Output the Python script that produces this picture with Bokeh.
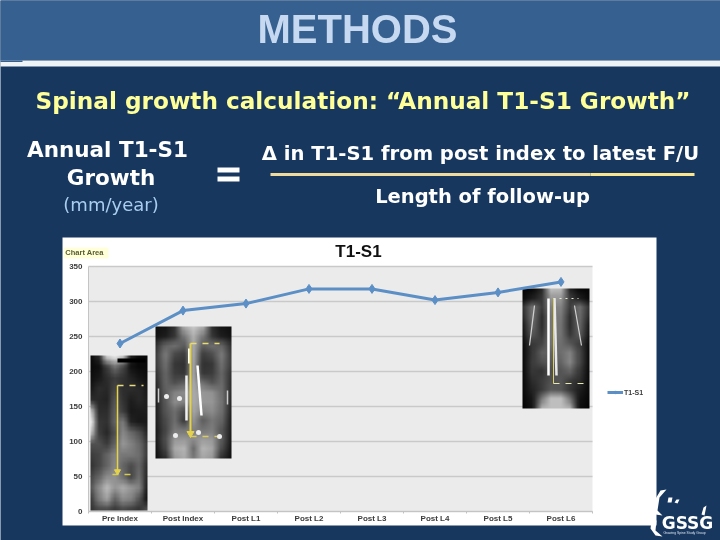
import numpy as np
from bokeh.embed import file_html
from bokeh.resources import INLINE
from bokeh.plotting import figure
from bokeh.models import (BoxAnnotation, PolyAnnotation, Label, Range1d, FixedTicker, Legend, LegendItem, LinearColorMapper)

# ---- data
categories = ["Pre Index", "Post Index", "Post L1", "Post L2", "Post L3", "Post L4", "Post L5", "Post L6"]
t1_s1_mm = [240, 287, 297, 318, 318, 302, 313, 328]
y_ticks = [0, 50, 100, 150, 200, 250, 300, 350]

# coarse grey levels for the three radiographs (top row first)
xray_pre = [
    [10, 40, 210, 235, 200, 30, 8, 8],
    [10, 15, 60, 110, 70, 18, 10, 10],
    [15, 25, 45, 60, 50, 35, 22, 15],
    [25, 45, 40, 70, 45, 45, 40, 25],
    [45, 40, 35, 85, 50, 30, 40, 30],
    [190, 45, 45, 95, 60, 25, 28, 30],
    [235, 55, 50, 100, 120, 35, 25, 25],
    [190, 60, 40, 80, 135, 105, 80, 40],
    [80, 80, 60, 100, 150, 130, 105, 60],
    [60, 70, 100, 130, 120, 120, 110, 60],
    [50, 70, 100, 135, 100, 75, 100, 45],
    [70, 100, 140, 145, 110, 70, 110, 40],
    [85, 140, 185, 150, 170, 150, 130, 30],
    [60, 125, 160, 100, 140, 130, 85, 20],
    [50, 70, 70, 55, 70, 60, 50, 80],
]
xray_post = [
    [15, 20, 50, 170, 200, 170, 45, 20, 15],
    [20, 30, 55, 120, 175, 120, 55, 30, 20],
    [50, 100, 110, 90, 170, 95, 110, 100, 50],
    [60, 120, 70, 60, 170, 60, 75, 120, 60],
    [60, 110, 55, 50, 165, 50, 55, 110, 60],
    [50, 100, 60, 55, 165, 55, 60, 100, 50],
    [40, 100, 80, 95, 170, 110, 85, 105, 45],
    [35, 95, 130, 140, 170, 150, 145, 110, 45],
    [30, 90, 140, 130, 170, 150, 150, 115, 40],
    [30, 85, 110, 75, 165, 130, 140, 110, 35],
    [30, 75, 110, 60, 150, 95, 120, 100, 30],
    [25, 70, 120, 115, 130, 115, 125, 85, 30],
    [25, 80, 150, 150, 140, 155, 150, 90, 25],
    [20, 70, 170, 180, 105, 180, 165, 75, 20],
    [15, 45, 150, 170, 120, 165, 150, 45, 15],
]
xray_l6 = [
    [6, 8, 40, 190, 185, 35, 8, 6],
    [10, 30, 55, 150, 150, 60, 30, 10],
    [50, 110, 60, 130, 130, 60, 110, 50],
    [40, 110, 45, 120, 120, 45, 105, 40],
    [25, 100, 45, 120, 115, 45, 100, 25],
    [20, 85, 55, 120, 115, 55, 90, 20],
    [12, 55, 70, 115, 110, 90, 60, 12],
    [10, 55, 95, 100, 110, 130, 70, 10],
    [10, 60, 80, 90, 100, 135, 70, 10],
    [10, 55, 50, 80, 85, 100, 55, 10],
    [10, 45, 60, 80, 85, 60, 45, 10],
    [10, 35, 60, 90, 85, 55, 30, 10],
    [8, 25, 120, 190, 190, 115, 20, 8],
    [5, 20, 175, 190, 190, 175, 15, 5],
]

# ---- canvas geometry: the frame fills the slide, the chart area sits inside it
W, H = 720, 540
FL, FR, FT, FB = 88, 592, 266, 511
XMIN, XMAX, YMIN, YMAX = -0.5, 7.5, 0, 350
def xd(px): return XMIN + (px - FL) * (XMAX - XMIN) / (FR - FL)
def yd(py): return YMIN + (FB - py) * (YMAX - YMIN) / (FB - FT)

p = figure(width=W, height=H, output_backend="svg", toolbar_location=None,
           x_range=Range1d(xd(0), xd(W)), y_range=Range1d(yd(H), yd(0)),
           min_border=0, border_fill_color="#17375e", background_fill_color="#17375e", outline_line_color=None)
p.styles = {"position": "fixed", "left": "0px", "top": "0px"}

def box(x0, y0, x1, y1, color, level="image"):
    p.add_layout(BoxAnnotation(left=xd(x0), right=xd(x1), top=yd(y0), bottom=yd(y1), fill_color=color,
                               fill_alpha=1, line_color=None, level=level, editable=False))

def lab(text, x, y, size, color, style="normal", font="DejaVu Sans", align="center"):
    p.add_layout(Label(x=xd(x), y=yd(y), text=text, text_font=font, text_font_size=f"{size}px",
                       text_color=color, text_font_style=style, text_align=align, text_baseline="middle"))

# slide furniture
box(-3, -3, 723, 60, "#36608f")
box(-3, 60, 723, 66, "#eef3f5")
box(-3, 60, 22, 61.5, "#36608f")
box(62, 237, 656, 525, "#ffffff")
box(FL, FT, FR, FB, "#ebebeb")
box(63, 247, 108, 258, "#ffffd9")

lab("METHODS", 357, 28, 40, "#c6d9f1", "bold", "Liberation Sans")
lab("Spinal growth calculation: \u201cAnnual T1-S1 Growth\u201d", 362.5, 100, 23.2, "#ffff99", "bold")
lab("Annual T1-S1", 107, 148.5, 21.5, "#ffffff", "bold")
lab("Growth", 110.5, 177, 21.5, "#ffffff", "bold")
lab("(mm/year)", 110.5, 204, 18, "#a9cdee")
box(217, 167, 239, 172, "#ffffff", "annotation")
box(217, 176, 239, 181, "#ffffff", "annotation")
lab("\u0394 in T1-S1 from post index to latest F/U", 480, 153, 19.6, "#ffffff", "bold")
box(270, 172.5, 590, 175.5, "#efdc9c", "annotation")
box(590, 172.5, 694, 175.5, "#fbe68e", "annotation")
lab("Length of follow-up", 482, 196, 19.5, "#ffffff", "bold")

lab("T1-S1", 358, 251, 17, "#111111", "bold", "Liberation Sans")
lab("Chart Area", 84, 252, 7.5, "#5a5a30", "bold", "Liberation Sans")

# logo
lab("GSSG", 687, 522, 17, "#ffffff", "bold", "DejaVu Sans")
lab("Growing Spine Study Group", 684, 532, 3.4, "#d8e2ee", "normal", "Liberation Sans")
for pts in ([(660, 490), (666, 489), (659, 497), (657, 510), (662, 515), (655, 514), (654, 500)],
            (( 651, 520), (656, 520), (655, 530), (662, 536), (655, 535), (650, 528)),
            ((668, 497), (672, 497), (671, 502), (667, 502)),
            ((676, 499), (679, 499), (677, 503), (674, 502)),
            ((703, 507), (706, 505), (704, 515), (701, 514))):
    p.add_layout(PolyAnnotation(xs=[xd(a) for a, b in pts], ys=[yd(b) for a, b in pts], fill_color="#ffffff",
                                fill_alpha=1, line_color=None, level="annotation", editable=False))

# axes, pinned to the chart area
xa, ya = p.xaxis[0], p.yaxis[0]
xa.fixed_location = YMIN
ya.fixed_location = XMIN
xa.bounds = (XMIN, XMAX)
ya.bounds = (YMIN, YMAX)
xa.ticker = FixedTicker(ticks=list(range(len(categories))), minor_ticks=[i - 0.5 for i in range(len(categories) + 1)])
xa.major_label_overrides = {i: c for i, c in enumerate(categories)}
ya.ticker = FixedTicker(ticks=y_ticks)
for a in (xa, ya):
    a.major_label_text_font = "Liberation Sans"
    a.major_label_text_font_size = "8px"
    a.major_label_text_font_style = "bold"
    a.major_label_text_color = "#3c3c3c"
    a.axis_line_color = "#c4c4c4"
    a.major_tick_line_color = None
    a.major_tick_in = 0
    a.major_tick_out = 0
    a.minor_tick_line_color = "#c0c0c0"
    a.minor_tick_in = 0
    a.minor_tick_out = 2
    a.major_label_standoff = 0
ya.major_label_standoff = 6
ya.minor_tick_line_color = None
p.xgrid.visible = False
p.ygrid.visible = False
p.segment(x0=[XMIN] * len(y_ticks), x1=[XMAX] * len(y_ticks), y0=y_ticks, y1=y_ticks,
          line_color="#c9c9c9", line_width=1.5)

# radiographs
grey = LinearColorMapper(low=0, high=255, palette=[f"#{v:02x}{v:02x}{v:02x}" for v in range(256)])

def upscale(rows, factor=8):
    a = np.array(rows, dtype=float)
    ny, nx = a.shape
    fy = np.linspace(0, ny - 1, ny * factor)
    fx = np.linspace(0, nx - 1, nx * factor)
    by_col = np.array([np.interp(fy, np.arange(ny), a[:, j]) for j in range(nx)]).T
    out = np.array([np.interp(fx, np.arange(nx), r) for r in by_col])
    return np.flipud(out)

def xray(rows, x0, y0, x1, y1):
    p.image(image=[upscale(rows)], x=xd(x0), y=yd(y1), dw=xd(x1) - xd(x0), dh=yd(y0) - yd(y1), color_mapper=grey)

xray(xray_pre, 90, 355, 147, 510)
xray(xray_post, 155, 326, 231, 458)
xray(xray_l6, 522, 288, 589, 408)

def seg(x0, y0, x1, y1, color, width=1.5, dash="solid"):
    p.segment(x0=xd(x0), y0=yd(y0), x1=xd(x1), y1=yd(y1), line_color=color, line_width=width, line_dash=dash)

# pre-index markings
box(117, 358, 145, 362, "#000000", "annotation")
seg(117, 385, 117, 470, "#e4d24a", 1.5)
seg(117, 385, 143, 385, "#e8dc80", 1.5, "dashed")
seg(112, 474, 135, 474, "#d8cc50", 1.5, "dashed")
p.scatter(x=[xd(117)], y=[yd(471)], marker="inverted_triangle", size=6, color="#e4d24a")
# post-index markings
seg(189, 348, 189, 363, "#ffffff", 3)
seg(197, 365, 201, 415, "#ffffff", 2.5)
seg(186, 375, 186, 420, "#f0f0f0", 2.5)
seg(190, 343, 190, 431, "#e4d24a", 2)
seg(190, 343, 219, 343, "#e8dc70", 1.5, "dashed")
seg(190, 436, 220, 436, "#d8cc60", 1.5, "dashed")
p.scatter(x=[xd(190)], y=[yd(433)], marker="inverted_triangle", size=7, color="#e4d24a")
p.scatter(x=[xd(v) for v in (166, 179, 175, 198, 219)], y=[yd(v) for v in (396, 398, 435, 432, 436)],
          marker="circle", size=5, color="#eeeeee", line_color=None)
seg(158, 388, 158, 402, "#cccccc", 1.5)
seg(227, 390, 227, 404, "#cccccc", 1.5)
# latest follow-up markings
seg(548, 298, 548, 375, "#ffffff", 2.5)
seg(554, 298, 556, 375, "#e8e8e8", 2.5)
seg(534, 305, 529, 345, "#d0d0d0", 1.2)
seg(574, 305, 581, 345, "#d0d0d0", 1.2)
seg(553, 298, 553, 383, "#d8d070", 1)
seg(553, 298, 578, 298, "#e8e8d0", 1, "dotted")
seg(553, 383, 589, 383, "#e8e8b0", 1, "dashed")

# series
line = p.line(x=list(range(len(categories))), y=t1_s1_mm, line_color="#5b8fc6", line_width=3)
pts = p.scatter(x=list(range(len(categories))), y=t1_s1_mm, marker="diamond", size=9, color="#5b8fc6")

leg = Legend(items=[LegendItem(label="T1-S1", renderers=[line, pts])], location=(607, 144),
             background_fill_alpha=0, border_line_color=None, padding=0, margin=0, spacing=0,
             glyph_width=16, glyph_height=8, label_standoff=1,
             label_text_font="Liberation Sans", label_text_font_size="7px",
             label_text_font_style="bold", label_text_color="#3c3c3c", label_height=8)
p.add_layout(leg)

open("out.html", "w").write(file_html(p, INLINE))
